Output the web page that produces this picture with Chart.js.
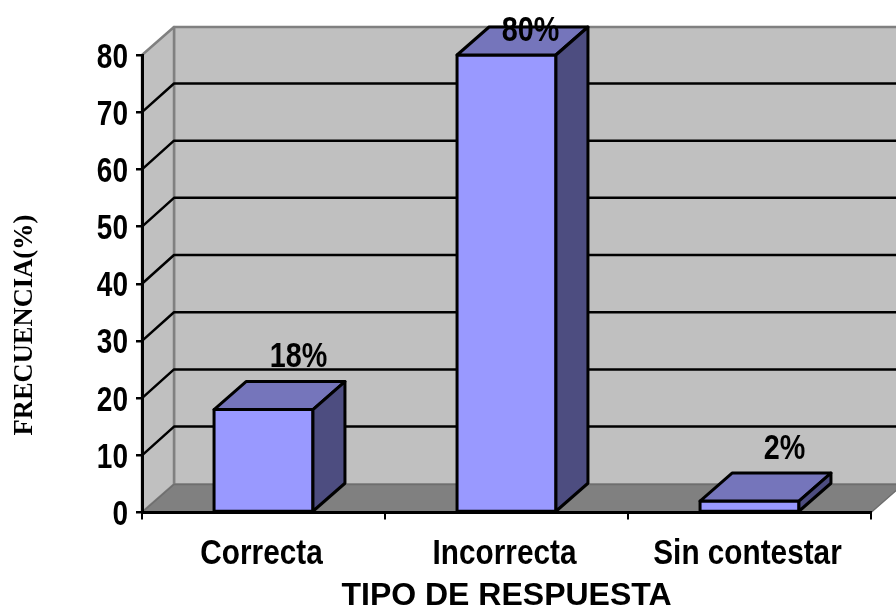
<!DOCTYPE html>
<html lang="es">
<head>
    <meta charset="UTF-8">
    <title>Tipo de respuesta</title>
    <script src="https://cdn.jsdelivr.net/npm/chart.js"></script>
    <style>
        html, body { margin: 0; padding: 0; background: #fff; }
        canvas { display: block; }
    </style>
</head>
<body>
    <canvas id="barChart" width="896" height="609"></canvas>

    <script>
        const categories = ['Correcta', 'Incorrecta', 'Sin contestar'];
        const frequencies = [18, 80, 2];
        const valueLabels = ['18%', '80%', '2%'];

        // Depth of the fake 3D box, in pixels
        const DEPTH_X = 32;
        const DEPTH_Y = 28;
        const GRID_DEPTH_Y = 28.7;
        const SANS = '"Liberation Sans", Arial, sans-serif';

        function fillShape(ctx, points, fill, stroke, lineWidth) {
            ctx.beginPath();
            points.forEach((p, i) => i ? ctx.lineTo(p[0], p[1]) : ctx.moveTo(p[0], p[1]));
            ctx.closePath();
            if (fill) {
                ctx.fillStyle = fill;
                ctx.fill();
            }
            if (stroke) {
                ctx.strokeStyle = stroke;
                ctx.lineWidth = lineWidth;
                ctx.lineJoin = 'round';
                ctx.stroke();
            }
        }

        // Condensed text: no narrow bold face is available, so squeeze the regular one
        function narrowText(ctx, text, x, y, squeeze, align) {
            ctx.save();
            ctx.translate(x, y);
            ctx.scale(squeeze, 1);
            ctx.fillStyle = '#000';
            ctx.font = 'bold 35px ' + SANS;
            ctx.textAlign = align;
            ctx.textBaseline = 'alphabetic';
            ctx.fillText(text, 0, 12.5);
            ctx.restore();
        }

        // Back wall, side wall, floor and their grid lines
        const wallsPlugin = {
            id: 'walls',
            beforeDraw(chart) {
                const { ctx, chartArea: a, scales: { y } } = chart;
                const backL = a.left + DEPTH_X, backR = a.right + DEPTH_X;
                const backT = a.top - DEPTH_Y, backB = a.bottom - DEPTH_Y;
                ctx.save();
                fillShape(ctx, [[backL, backT], [backR, backT], [backR, backB], [backL, backB]], '#c0c0c0', '#808080', 2.5);
                fillShape(ctx, [[a.left, a.top], [backL, backT], [backL, backB], [a.left, a.bottom]], '#c0c0c0', '#808080', 2.5);
                fillShape(ctx, [[a.left, a.bottom], [a.right, a.bottom], [backR, backB], [backL, backB]], '#808080', '#6e6e6e', 1.5);

                ctx.strokeStyle = '#000';
                ctx.lineWidth = 2.5;
                y.ticks.forEach(t => {
                    if (t.value === 0 || t.value === y.max) return;
                    const py = y.getPixelForValue(t.value);
                    ctx.beginPath();
                    ctx.moveTo(a.left, py);
                    ctx.lineTo(backL, py - GRID_DEPTH_Y);
                    ctx.lineTo(backR, py - GRID_DEPTH_Y);
                    ctx.stroke();
                });
                ctx.restore();
            }
        };

        // Outline, top and side faces of each bar, the condensed labels and the vertical axis title
        const boxPlugin = {
            id: 'box',
            afterDatasetsDraw(chart) {
                const { ctx, scales: { x, y } } = chart;
                const bars = chart.getDatasetMeta(0).data;
                ctx.save();
                bars.forEach((bar, i) => {
                    const half = bar.width / 2;
                    const l = bar.x - half, r = bar.x + half;
                    fillShape(ctx, [[l, bar.y], [r, bar.y], [r, bar.base], [l, bar.base]], null, '#000', 3);
                    fillShape(ctx, [[l, bar.y], [r, bar.y], [r + DEPTH_X, bar.y - DEPTH_Y], [l + DEPTH_X, bar.y - DEPTH_Y]], '#7575bb', '#000', 3);
                    fillShape(ctx, [[r, bar.y], [r + DEPTH_X, bar.y - DEPTH_Y], [r + DEPTH_X, bar.base - DEPTH_Y], [r, bar.base]], '#4d4d80', '#000', 3);

                    // The tallest bar has no room above it, its label sits on the top face
                    const labelY = bar.y - DEPTH_Y - 27;
                    const tight = labelY < 28;
                    narrowText(ctx, valueLabels[i], bar.x + (tight ? 24 : 35), tight ? 28 : labelY, 0.82, 'center');
                });

                y.ticks.forEach(t => {
                    narrowText(ctx, String(t.value), 128, y.getPixelForValue(t.value), 0.8, 'right');
                });
                categories.forEach((name, i) => {
                    narrowText(ctx, name, x.getPixelForValue(i) - 2, 551, 0.85, 'center');
                });

                ctx.translate(32, 325);
                ctx.rotate(-Math.PI / 2);
                ctx.fillStyle = '#000';
                ctx.font = 'bold 26.5px "Liberation Serif", serif';
                ctx.textAlign = 'center';
                ctx.textBaseline = 'alphabetic';
                ctx.fillText('FRECUENCIA(%)', 0, 0);
                ctx.restore();
            }
        };

        new Chart(document.getElementById('barChart'), {
            type: 'bar',
            data: {
                labels: categories,
                datasets: [{
                    data: frequencies,
                    backgroundColor: '#9999ff',
                    borderWidth: 0,
                    barPercentage: 0.407,
                    categoryPercentage: 1,
                    clip: false
                }]
            },
            options: {
                responsive: false,
                animation: false,
                layout: { padding: { top: 55, right: 25, left: 0, bottom: 0 } },
                plugins: {
                    legend: { display: false },
                    tooltip: { enabled: false }
                },
                scales: {
                    x: {
                        afterFit(scale) { scale.height = 96.5; },
                        border: { display: true, color: '#000', width: 3 },
                        grid: { drawOnChartArea: false, color: '#000', lineWidth: 2, tickLength: 7 },
                        ticks: { display: false },
                        title: {
                            display: true,
                            text: 'TIPO DE RESPUESTA',
                            color: '#000',
                            padding: { top: 0, bottom: -3 },
                            font: { family: SANS, weight: 'bold', size: 32, lineHeight: 1 }
                        }
                    },
                    y: {
                        min: 0,
                        max: 80,
                        afterFit(scale) { scale.width = 142; },
                        border: { display: true, color: '#000', width: 3 },
                        grid: { drawOnChartArea: false, color: '#000', lineWidth: 2.5, tickLength: 6 },
                        ticks: { display: false, stepSize: 10 }
                    }
                }
            },
            plugins: [wallsPlugin, boxPlugin]
        });
    </script>
</body>
</html>
